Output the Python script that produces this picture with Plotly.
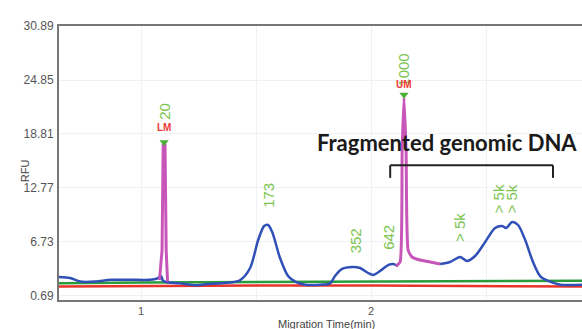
import plotly.graph_objects as go

# ---------------- data ----------------
sample_t = [0.643, 0.691, 0.735, 0.80, 0.87, 0.952, 1.039, 1.070, 1.087, 1.095,
            1.109, 1.170, 1.230, 1.280, 1.387, 1.430, 1.474, 1.509, 1.535, 1.552,
            1.570, 1.604, 1.639, 1.670, 1.713, 1.778, 1.822, 1.843, 1.874, 1.917,
            1.952, 1.987, 2.009, 2.039, 2.074, 2.096, 2.117]
sample_v = [2.81, 2.70, 2.30, 2.30, 2.50, 2.50, 2.50, 2.65, 2.90, 2.40,
            2.25, 2.10, 1.90, 2.00, 2.20, 2.45, 3.82, 6.95, 8.52, 8.63,
            7.85, 4.94, 2.92, 2.30, 1.95, 1.95, 2.10, 2.92, 3.71, 3.93,
            3.82, 3.26, 3.04, 3.48, 4.15, 4.27, 4.04]
sample2_t = [2.300, 2.343, 2.387, 2.417, 2.452, 2.496, 2.539, 2.570, 2.587, 2.613,
             2.639, 2.670, 2.704, 2.735, 2.770, 2.822, 2.917]
sample2_v = [4.27, 4.49, 5.05, 4.60, 5.16, 6.73, 8.29, 8.52, 8.29, 8.97,
             8.63, 6.95, 4.49, 2.92, 2.37, 1.95, 1.95]

lm_t = [1.080, 1.091, 1.096, 1.100, 1.104, 1.109, 1.115]
lm_v = [2.45, 5.8, 17.6, 17.7, 17.6, 5.8, 2.3]
um_t = [2.109, 2.126, 2.135, 2.143, 2.152, 2.161, 2.178, 2.213, 2.257, 2.300]
um_v = [4.04, 4.49, 17.0, 22.9, 17.0, 5.83, 5.05, 4.71, 4.49, 4.27]

green_t = [0.643, 1.0, 1.5, 2.0, 2.5, 2.917]
green_v = [2.10, 2.20, 2.25, 2.30, 2.35, 2.40]
red_t = [0.643, 1.0, 1.5, 2.0, 2.5, 2.917]
red_v = [1.75, 1.80, 1.85, 1.85, 1.75, 1.75]

marker_t = [1.100, 2.143]
marker_v = [17.9, 23.2]
marker_names = ["LM", "UM"]
marker_name_v = [19.5, 24.3]

peak_labels = ["20", "173", "352", "642", "1000", "> 5k", "> 5k", "> 5k"]
peak_label_t = [1.104, 1.556, 1.930, 2.078, 2.143, 2.387, 2.552, 2.609]
peak_label_v = [21.3, 12.0, 6.8, 7.2, 26.0, 8.3, 11.5, 11.5]

y_ticks = [0.69, 6.73, 12.77, 18.81, 24.85, 30.89]
x_ticks = [1, 1.5, 2, 2.5]
x_tick_text = ["1", "", "2", ""]

bracket_t = [2.083, 2.791]
bracket_v = [15.3, 13.9]
bracket_title = "Fragmented genomic DNA"
bracket_title_pos = [2.328, 17.9]

# ---------------- figure ----------------
fig = go.Figure()
fig.add_trace(go.Scatter(x=green_t, y=green_v, mode="lines",
                         line=dict(color="#2a9a3a", width=2.5), hoverinfo="skip"))
fig.add_trace(go.Scatter(x=red_t, y=red_v, mode="lines",
                         line=dict(color="#e8332a", width=2.5), hoverinfo="skip"))
fig.add_trace(go.Scatter(x=sample_t, y=sample_v, mode="lines",
                         line=dict(color="#3050b8", width=2.5, shape="spline", smoothing=0.8)))
fig.add_trace(go.Scatter(x=sample2_t, y=sample2_v, mode="lines",
                         line=dict(color="#3050b8", width=2.5, shape="spline", smoothing=0.8)))
fig.add_trace(go.Scatter(x=lm_t, y=lm_v, mode="lines",
                         line=dict(color="#c856b8", width=3)))
fig.add_trace(go.Scatter(x=um_t, y=um_v, mode="lines",
                         line=dict(color="#c856b8", width=3, shape="spline", smoothing=0.5)))
fig.add_trace(go.Scatter(x=marker_t, y=marker_v, mode="markers",
                         marker=dict(symbol="triangle-down", size=8, color="#4caf3a")))

annotations = []
for txt, t, v in zip(peak_labels, peak_label_t, peak_label_v):
    annotations.append(dict(x=t, y=v, text=txt, showarrow=False, textangle=-90,
                            font=dict(family="Arial", size=15, color="#7cc450")))
for name, t, v in zip(marker_names, marker_t, marker_name_v):
    annotations.append(dict(x=t, y=v, text="<b>%s</b>" % name, showarrow=False,
                            font=dict(family="Arial", size=10, color="#f03a3a")))
annotations.append(dict(x=bracket_title_pos[0], y=bracket_title_pos[1],
                        text="<b>%s</b>" % bracket_title, showarrow=False,
                        font=dict(family="Lato", size=22, color="#1a1a1a")))
annotations.append(dict(x=0.511, y=0, xref="paper", yref="paper", yshift=-16,
                        xanchor="center", yanchor="top", text="Migration Time(min)",
                        showarrow=False, font=dict(family="Arial", size=11, color="#444")))
annotations.append(dict(x=0, y=0.47, xref="paper", yref="paper", xshift=-42,
                        textangle=-90, text="RFU", showarrow=False,
                        font=dict(family="Arial", size=11, color="#444")))

shapes = [
    dict(type="line", x0=bracket_t[0], x1=bracket_t[1], y0=bracket_v[0], y1=bracket_v[0],
         line=dict(color="#222", width=2)),
    dict(type="line", x0=bracket_t[0], x1=bracket_t[0], y0=bracket_v[0], y1=bracket_v[1],
         line=dict(color="#222", width=2)),
    dict(type="line", x0=bracket_t[1], x1=bracket_t[1], y0=bracket_v[0], y1=bracket_v[1],
         line=dict(color="#222", width=2)),
]

fig.update_layout(
    width=582, height=329,
    margin=dict(l=59, r=0, t=26, b=29),
    paper_bgcolor="white", plot_bgcolor="white",
    showlegend=False,
    annotations=annotations, shapes=shapes,
    xaxis=dict(range=[0.643, 2.917], tickvals=x_ticks, ticktext=x_tick_text,
               showgrid=True, gridcolor="#eef1f6", gridwidth=1, zeroline=False,
               showline=True, linecolor="#777", linewidth=2, mirror=True,
               ticks="", tickfont=dict(family="Arial", size=11, color="#555")),
    yaxis=dict(range=[0.24, 30.89], tickvals=y_ticks,
               ticktext=["%.2f" % v for v in y_ticks],
               showgrid=True, gridcolor="#eef1f6", gridwidth=1, zeroline=False,
               showline=True, linecolor="#777", linewidth=2,
               ticks="", ticklabelstandoff=1,
               tickfont=dict(family="Arial", size=12, color="#555")),
)

fig.write_html("out.html")
